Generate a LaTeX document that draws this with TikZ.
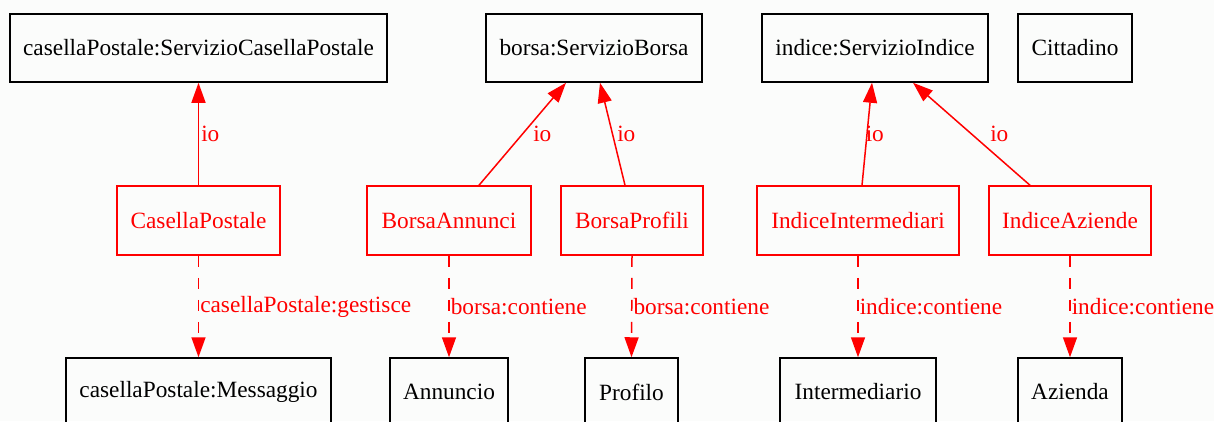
\documentclass[tikz,border=0pt]{standalone}
\usepackage{fontspec}
\setmainfont{Liberation Serif}
\usetikzlibrary{arrows.meta}
\definecolor{bgc}{RGB}{251,252,251}
\begin{document}
\begin{tikzpicture}[x=1pt,y=-1pt,
  every node/.style={font=\fontsize{23.3}{28}\selectfont},
  cls/.style={draw=black,line width=1.5pt,inner sep=0pt,minimum height=68pt,text=black},
  rcls/.style={draw=red,line width=1.5pt,inner sep=0pt,minimum height=69pt,text=red},
  iolink/.style={draw=red,line width=1.5pt,-{Triangle[length=20pt,width=14pt]}},
  rel/.style={draw=red,line width=1.5pt,dash pattern=on 11pt off 11pt,-{Triangle[length=20pt,width=14pt]}},
  lab/.style={text=red,inner sep=0pt,anchor=west}]
\fill[bgc] (0,0) rectangle (1214,421);
\useasboundingbox (0,0) rectangle (1214,421);
% top row
\node[cls,minimum width=377pt] (scp) at (198.5,48) {casellaPostale:ServizioCasellaPostale};
\node[cls,minimum width=216pt] (sb) at (594,48) {borsa:ServizioBorsa};
\node[cls,minimum width=226pt] (si) at (875,48) {indice:ServizioIndice};
\node[cls,minimum width=114pt] (cit) at (1075,48) {Cittadino};
% middle row
\node[rcls,minimum width=163pt] (cp) at (198.5,220.5) {CasellaPostale};
\node[rcls,minimum width=164pt] (ba) at (449,220.5) {BorsaAnnunci};
\node[rcls,minimum width=142pt] (bp) at (632,220.5) {BorsaProfili};
\node[rcls,minimum width=202pt] (ii) at (858,220.5) {IndiceIntermediari};
\node[rcls,minimum width=162pt] (ia) at (1070,220.5) {IndiceAziende};
% bottom row
\node[cls,minimum width=265pt] (msg) at (198.5,392) {casellaPostale:Messaggio};
\node[cls,minimum width=118pt] (ann) at (449,392) {Annuncio};
\node[cls,minimum width=93pt] (pro) at (631.5,392) {Profilo};
\node[cls,minimum width=156pt] (int) at (858,392) {Intermediario};
\node[cls,minimum width=104pt] (az) at (1070,392) {Azienda};
% io links
\draw[iolink] (cp.north) -- node[lab,pos=0.5,xshift=2pt] {io} (scp.south);
\draw[iolink] ([xshift=30pt]ba.north) -- node[lab,pos=0.5,xshift=10pt] {io} ([xshift=-28pt]sb.south);
\draw[iolink] ([xshift=-7pt]bp.north) -- node[lab,pos=0.5,xshift=4pt] {io} ([xshift=6pt]sb.south);
\draw[iolink] ([xshift=4pt]ii.north) -- node[lab,pos=0.5,xshift=-2pt] {io} ([xshift=-3pt]si.south);
\draw[iolink] ([xshift=-40pt]ia.north) -- node[lab,pos=0.5,xshift=18pt] {io} ([xshift=38pt]si.south);
% relations
\draw[rel] (cp.south) -- node[lab,pos=0.5,xshift=1pt] {casellaPostale:gestisce} (msg.north);
\draw[rel] (ba.south) -- node[lab,pos=0.5,xshift=1pt] {borsa:contiene} (ann.north);
\draw[rel] (bp.south) -- node[lab,pos=0.5,xshift=1pt] {borsa:contiene} (pro.north);
\draw[rel] (ii.south) -- node[lab,pos=0.5,xshift=1pt] {indice:contiene} (int.north);
\draw[rel] (ia.south) -- node[lab,pos=0.5,xshift=1pt] {indice:contiene} (az.north);
\end{tikzpicture}
\end{document}
